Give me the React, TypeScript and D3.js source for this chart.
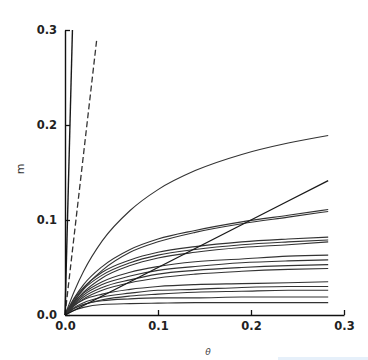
import { useEffect, useRef } from "react"
import * as d3 from "d3"

// shared theta sample points for the isotherm curves
const thetas = [0, 0.01, 0.02, 0.04, 0.07, 0.1, 0.14, 0.19, 0.24, 0.283]

// m values for each curve at the theta points above
const curveTop = [0, 0.025, 0.046, 0.078, 0.11, 0.132, 0.152, 0.169, 0.181, 0.189]
const curve2a = [0, 0.018, 0.032, 0.051, 0.069, 0.08, 0.089, 0.098, 0.105, 0.111]
const curve2b = [0, 0.015, 0.028, 0.047, 0.066, 0.077, 0.087, 0.096, 0.103, 0.109]
const straight = [0, 0.005, 0.01, 0.02, 0.035, 0.05, 0.07, 0.095, 0.12, 0.1415]
const bundleA = [
  [0, 0.017, 0.029, 0.045, 0.058, 0.066, 0.072, 0.077, 0.08, 0.082],
  [0, 0.015, 0.027, 0.042, 0.055, 0.063, 0.069, 0.074, 0.077, 0.079],
  [0, 0.013, 0.024, 0.039, 0.052, 0.06, 0.066, 0.071, 0.074, 0.077],
]
const bundleB = [
  [0, 0.014, 0.023, 0.035, 0.045, 0.051, 0.056, 0.059, 0.062, 0.063],
  [0, 0.012, 0.021, 0.032, 0.041, 0.047, 0.051, 0.055, 0.057, 0.058],
  [0, 0.011, 0.019, 0.029, 0.037, 0.043, 0.047, 0.05, 0.052, 0.053],
  [0, 0.01, 0.017, 0.026, 0.034, 0.039, 0.043, 0.046, 0.048, 0.049],
]
const bundleC = [
  [0, 0.01, 0.016, 0.022, 0.027, 0.03, 0.032, 0.033, 0.034, 0.035],
  [0, 0.008, 0.013, 0.019, 0.023, 0.026, 0.027, 0.029, 0.03, 0.03],
  [0, 0.007, 0.011, 0.016, 0.02, 0.022, 0.024, 0.025, 0.026, 0.026],
]
const bundleD = [
  [0, 0.007, 0.011, 0.015, 0.017, 0.018, 0.018, 0.019, 0.019, 0.019],
  [0, 0.005, 0.008, 0.011, 0.012, 0.0125, 0.013, 0.013, 0.013, 0.013],
]

// near-vertical solid line and dashed line (theta, m)
const steepLine: [number, number][] = [[0, 0], [0.008, 0.3]]
const dashedLine: [number, number][] = [[0, 0], [0.034, 0.289]]

const tickValues = [0, 0.1, 0.2, 0.3]

export default function App() {
  const svgRef = useRef<SVGSVGElement>(null)

  useEffect(() => {
    const svg = d3.select(svgRef.current)
    svg.selectAll("*").remove()

    const x = d3.scaleLinear().domain([0, 0.3]).range([65, 344])
    const y = d3.scaleLinear().domain([0, 0.3]).range([315, 30])

    const allCurves = [curveTop, curve2a, curve2b, ...bundleA, ...bundleB, ...bundleC, ...bundleD]

    const line = d3.line<number>()
      .x((_, i) => x(thetas[i]))
      .y(d => y(d))
      .curve(d3.curveMonotoneX)

    const g = svg.append("g")

    allCurves.forEach(vals => {
      g.append("path")
        .attr("d", line(vals))
        .attr("fill", "none")
        .attr("stroke", "#333")
        .attr("stroke-width", 1.1)
    })

    // straight line
    g.append("path")
      .attr("d", d3.line<number>().x((_, i) => x(thetas[i])).y(d => y(d))(straight))
      .attr("fill", "none")
      .attr("stroke", "#1a1a1a")
      .attr("stroke-width", 1.4)

    const seg = d3.line<[number, number]>().x(d => x(d[0])).y(d => y(d[1]))

    g.append("path")
      .attr("d", seg(steepLine))
      .attr("fill", "none")
      .attr("stroke", "#1a1a1a")
      .attr("stroke-width", 1.4)

    g.append("path")
      .attr("d", seg(dashedLine))
      .attr("fill", "none")
      .attr("stroke", "#333")
      .attr("stroke-width", 1.3)
      .attr("stroke-dasharray", "6,3")

    // axes with inward ticks
    const font = "'DejaVu Sans', sans-serif"
    const yAxis = svg.append("g")
      .attr("transform", `translate(${x(0)},0)`)
      .call(d3.axisLeft(y).tickValues(tickValues).tickFormat(d3.format(".1f"))
        .tickSizeInner(-5).tickSizeOuter(0).tickPadding(8))
    const xAxis = svg.append("g")
      .attr("transform", `translate(0,${y(0)})`)
      .call(d3.axisBottom(x).tickValues(tickValues).tickFormat(d3.format(".1f"))
        .tickSizeInner(-5).tickSizeOuter(0).tickPadding(7))

    ;[yAxis, xAxis].forEach(ax => {
      ax.select(".domain").attr("stroke", "#111").attr("stroke-width", 1.4)
      ax.selectAll(".tick line").attr("stroke", "#111").attr("stroke-width", 1.3)
      ax.selectAll(".tick text")
        .attr("fill", "#222")
        .style("font-family", font)
        .style("font-weight", "bold")
        .style("font-size", "11.5px")
    })

    // axis titles
    svg.append("text")
      .attr("transform", "translate(24,169) rotate(-90)")
      .attr("text-anchor", "middle")
      .style("font-family", font)
      .style("font-size", "11px")
      .attr("fill", "#333")
      .text("m")

    svg.append("text")
      .attr("x", 208)
      .attr("y", 355)
      .attr("text-anchor", "middle")
      .style("font-family", font)
      .style("font-size", "9px")
      .style("font-style", "italic")
      .attr("fill", "#444")
      .text("θ")

    // faint strip at bottom right of the scan
    svg.append("rect")
      .attr("x", 278)
      .attr("y", 357)
      .attr("width", 90)
      .attr("height", 3)
      .attr("fill", "#e6f0fa")
  }, [])

  return (
    <svg
      ref={svgRef}
      width={368}
      height={360}
      style={{ position: "absolute", left: 0, top: 0, background: "#fff" }}
    />
  )
}
